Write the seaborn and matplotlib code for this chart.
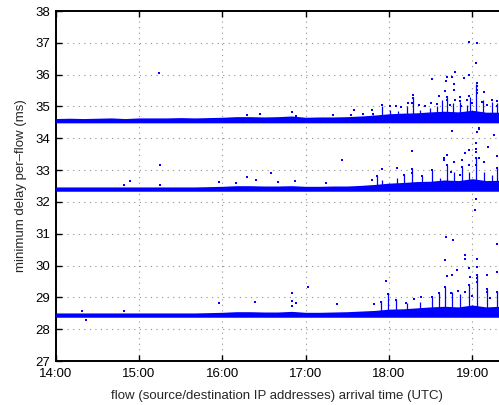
import numpy as np
import pandas as pd
import matplotlib
matplotlib.use("Agg")
import matplotlib.pyplot as plt
import seaborn as sns

# ---------------- data (minutes after 14:00 UTC, delay in ms) ----------------
env_t = [0, 10, 20, 30, 40, 50, 60, 70, 80, 90, 100, 110, 120, 130, 140, 150, 160,
         170, 180, 190, 200, 210, 220, 230, 240, 250, 260, 270, 280, 290, 300, 310, 320]
band1_base = [34.55] * 33
band1_top = [34.62, 34.63, 34.62, 34.63, 34.64, 34.62, 34.64, 34.64, 34.64, 34.65, 34.64,
             34.65, 34.66, 34.68, 34.68, 34.67, 34.68, 34.70, 34.66, 34.67, 34.67, 34.68,
             34.70, 34.73, 34.77, 34.79, 34.80, 34.83, 34.85, 34.83, 34.88, 34.82, 34.82]
band2_base = [32.40] * 33
band2_top = [32.47, 32.47, 32.47, 32.47, 32.47, 32.47, 32.47, 32.47, 32.47, 32.47, 32.47,
             32.48, 32.49, 32.51, 32.51, 32.50, 32.50, 32.51, 32.49, 32.49, 32.50, 32.50,
             32.52, 32.55, 32.59, 32.61, 32.64, 32.65, 32.69, 32.67, 32.73, 32.67, 32.68]
band3_base = [28.44] * 33
band3_top = [28.51, 28.51, 28.51, 28.51, 28.51, 28.51, 28.51, 28.51, 28.51, 28.51, 28.51,
             28.52, 28.53, 28.55, 28.55, 28.54, 28.54, 28.56, 28.53, 28.53, 28.54, 28.55,
             28.57, 28.59, 28.63, 28.64, 28.67, 28.70, 28.72, 28.70, 28.76, 28.70, 28.72]

# dense columns of points rising above each band (time, top of column)
spk1_t = [228.7, 235.2, 240.7, 246.7, 252.7, 257.0, 262.3, 269.5, 274.3, 277.9, 281.5,
          286.3, 291.1, 295.9, 298.3, 302.6, 307.9, 313.9, 317.5]
spk1_v = [34.74, 35.02, 34.89, 34.85, 35.00, 35.30, 34.89, 34.94, 35.00, 35.20, 35.30,
          35.10, 35.15, 35.05, 35.30, 35.70, 35.20, 35.15, 35.10]
spk2_t = [231.1, 235.2, 246.0, 251.0, 256.8, 263.7, 271.2, 276.7, 282.2, 286.8, 292.5,
          297.8, 302.6, 308.6, 313.9, 317.7]
spk2_v = [32.83, 32.69, 32.75, 32.85, 33.03, 32.83, 33.00, 32.75, 33.16, 32.95, 33.09,
          32.95, 33.40, 32.95, 32.85, 33.10]
spk3_t = [234.2, 239.5, 245.0, 252.7, 262.3, 270.7, 276.2, 280.3, 285.8, 291.1, 297.8,
          303.1, 310.3, 317.5]
spk3_v = [28.85, 29.10, 28.92, 28.83, 28.87, 29.02, 29.13, 29.34, 29.18, 29.10, 29.39,
          29.70, 29.25, 29.18]

out1_t = [74.6, 297.4, 303.1, 302.4, 287.5, 281.5, 285.8, 271.4, 294.2, 297.4, 281.2, 286.8,
          280.1, 286.6, 276.2, 257.0, 281.7, 303.1, 303.1, 303.1, 303.1, 308.2, 291.1, 297.4,
          287.7, 291.1, 296.6, 270.0, 257.0, 253.4, 256.6, 281.7, 313.9, 317.5, 307.4, 235.0,
          240.7, 305.0, 147.1, 169.9, 173.0, 199.4, 212.4, 221.5, 228.2, 137.5, 262, 266, 275,
          284, 292, 300, 311, 318, 249, 245, 228, 215]
out1_v = [36.06, 37.03, 37.01, 36.36, 36.08, 35.94, 35.94, 35.86, 35.91, 35.98, 35.80, 35.70,
          35.50, 35.52, 35.34, 35.36, 35.31, 35.73, 35.63, 35.52, 35.42, 35.44, 35.31, 35.34,
          35.21, 35.18, 35.21, 35.12, 35.26, 35.10, 35.12, 35.20, 35.19, 35.17, 35.15, 35.04,
          35.02, 34.30, 34.75, 34.83, 34.70, 34.74, 34.73, 34.75, 34.77, 34.74, 35.05, 35.00,
          35.08, 35.05, 35.02, 35.10, 35.05, 35.00, 34.98, 35.00, 34.90, 34.88]

out2_t = [285.3, 303.1, 305.0, 315.8, 302.6, 311.3, 256.8, 302.6, 302.6, 297.4, 294.7, 281.5,
          279.5, 279.5, 305.0, 302.6, 292.5, 317.8, 286.8, 308.6, 297.9, 282.2, 292.5, 302.6,
          317.5, 256.8, 256.8, 235.1, 246.0, 231.1, 271.2, 263.7, 284.4, 291.1, 251.0, 302.6,
          75.2, 206.1, 154.8, 137.5, 53.5, 49.4, 117.8, 144.0, 172.5, 194.5, 227.5, 75.2, 130,
          160]
out2_v = [34.23, 34.19, 34.32, 34.09, 33.86, 33.74, 33.60, 33.67, 33.57, 33.64, 33.53, 33.48,
          33.37, 33.32, 33.37, 33.37, 33.33, 33.45, 33.25, 33.27, 33.16, 33.16, 33.09, 33.15,
          33.08, 33.03, 32.90, 33.03, 33.06, 32.83, 33.00, 32.83, 32.95, 32.85, 32.85, 32.09,
          33.15, 33.31, 32.91, 32.78, 32.67, 32.53, 32.63, 32.69, 32.67, 32.59, 32.69, 32.53,
          32.60, 32.62]

out3_t = [302.3, 281.2, 286.0, 317.5, 294.5, 295.0, 280.5, 303.1, 303.1, 297.4, 289.1, 317.8,
          282.2, 285.8, 298.3, 303.1, 303.1, 303.1, 310.7, 237.8, 280.3, 289.7, 297.8, 284.4,
          294.7, 310.3, 310.3, 276.2, 271.4, 239.5, 317.5, 245.0, 234.2, 252.6, 22.0, 19.1,
          49.4, 117.8, 143.5, 170.1, 181.7, 170.1, 170.1, 173.0, 202.3, 229.4, 263, 300, 313,
          258]
out3_v = [31.74, 30.91, 30.80, 30.67, 30.33, 30.20, 30.17, 30.21, 29.97, 29.93, 29.85, 29.81,
          29.67, 29.70, 29.63, 29.70, 29.60, 29.49, 29.70, 29.51, 29.34, 29.20, 29.39, 29.15,
          29.18, 29.25, 29.18, 29.13, 29.02, 29.10, 29.18, 28.92, 28.85, 28.83, 28.29, 28.58,
          28.58, 28.81, 28.86, 29.15, 29.34, 28.89, 28.74, 28.81, 28.78, 28.79, 29.00, 29.05,
          28.98, 28.95]

x_ticks = [0, 60, 120, 180, 240, 300]
x_ticklabels = ["14:00", "15:00", "16:00", "17:00", "18:00", "19:00"]
y_ticks = list(range(27, 39))

# ---------------- plotting ----------------
sns.set_style("ticks")
plt.rcParams["font.family"] = ["Liberation Sans", "DejaVu Sans"]

fig = plt.figure(figsize=(4.99, 4.05), dpi=100)
ax = fig.add_axes([55.7 / 499, 44 / 405, 1 - 55.7 / 499, 350 / 405])

blue = "#0000ff"
bands = [(band1_base, band1_top, spk1_t, spk1_v),
         (band2_base, band2_top, spk2_t, spk2_v),
         (band3_base, band3_top, spk3_t, spk3_v)]
for base, top, st, sv in bands:
    lo = [b - 0.065 for b in base]
    ax.fill_between(env_t, lo, top, color=blue, linewidth=0, zorder=3)
    ax.vlines(st, base[0], sv, color=blue, linewidth=0.9, zorder=3)

pts = pd.DataFrame({
    "t": out1_t + out2_t + out3_t,
    "v": out1_v + out2_v + out3_v,
})
sns.scatterplot(data=pts, x="t", y="v", ax=ax, color=blue, marker="s", s=4.5,
                linewidth=0, zorder=4)

ax.set_xlim(0, 319.3)
ax.set_ylim(27, 38)
ax.set_xticks(x_ticks)
ax.set_xticklabels(x_ticklabels)
ax.set_yticks(y_ticks)

ax.grid(True, linestyle=(0, (1, 4)), color="#909090", linewidth=0.8)
ax.set_axisbelow(True)

for s in ["left", "bottom", "top"]:
    ax.spines[s].set_linewidth(1.4)
    ax.spines[s].set_color("black")
ax.spines["right"].set_visible(False)

ax.tick_params(axis="both", direction="in", length=4, width=1, labelsize=9.5,
               top=True, right=False, colors="black")
ax.tick_params(axis="x", pad=5)
ax.tick_params(axis="y", pad=4)

ax.set_xlabel("flow (source/destination IP addresses) arrival time (UTC)", fontsize=9.5,
              labelpad=7)
ax.set_ylabel("minimum delay per\u2013flow (ms)", fontsize=9.5, labelpad=6)

fig.savefig("out.png", dpi=100)
